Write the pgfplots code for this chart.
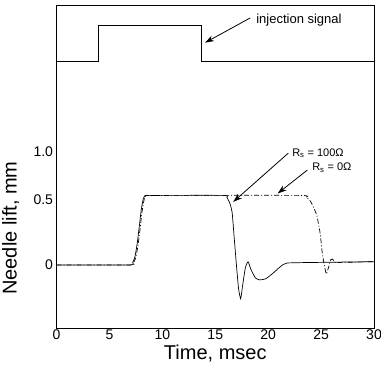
\documentclass[border=0pt]{standalone}
\usepackage{fontspec}
\setmainfont{Liberation Sans}
\usepackage{pgfplots}
\pgfplotsset{compat=1.18}
\usetikzlibrary{arrows.meta}
\begin{document}
\begin{tikzpicture}
\begin{axis}[
  name=ax, scale only axis, width=317.5pt, height=322.5pt,
  xmin=0, xmax=30, ymin=-0.485, ymax=1.996,
  xtick={0,5,...,30},
  ytick={0,0.5,0.87}, yticklabels={0,0.5,1.0},
  major tick length=0pt,
  /pgf/number format/assume math mode=true,
  tick label style={font=\fontsize{14}{16}\selectfont},
  xticklabel style={yshift=2pt},
  axis line style={line width=0.9pt},
  xlabel={Time, msec}, ylabel={Needle lift, mm},
  label style={font=\fontsize{20}{22}\selectfont},
  xlabel style={at={(axis description cs:0.5,-0.0412)}, anchor=north},
  ylabel style={at={(axis description cs:-0.1065,0.31)}, anchor=south},
  clip=false,
]
% injection signal
\addplot[black, line width=0.7pt] coordinates {
  (0,1.569) (4.0,1.569) (4.0,1.842) (13.7,1.842) (13.7,1.569) (30,1.569)};
% R = 100 ohm (solid)
\addplot[black, line width=0.7pt, smooth, tension=0.3] coordinates {
  (0,0) (6.9,0.0) (7.2,0.02) (7.4,0.06) (7.6,0.15) (7.8,0.28) (8.0,0.42) (8.2,0.51) (8.4,0.535)
  (9,0.535) (15.8,0.535) (16.1,0.52) (16.4,0.47) (16.6,0.4) (16.8,0.2) (17.0,0.0) (17.2,-0.18)
  (17.4,-0.26) (17.6,-0.15) (17.85,-0.02) (18.1,0.025) (18.4,-0.04) (18.8,-0.1) (19.2,-0.115)
  (19.8,-0.105) (20.5,-0.06) (21.2,-0.01) (21.8,0.015) (25,0.02) (30,0.025)};
% R = 0 ohm (dash-dot)
\addplot[black, line width=0.7pt, dash pattern=on 5pt off 2pt on 1pt off 2pt, smooth, tension=0.3] coordinates {
  (0,0) (7.0,0) (7.3,0.02) (7.5,0.06) (7.7,0.15) (7.9,0.28) (8.1,0.42) (8.3,0.51) (8.5,0.535)
  (9,0.535) (23.0,0.535) (23.6,0.52) (24.0,0.49) (24.3,0.44) (24.6,0.38) (24.9,0.25) (25.1,0.1)
  (25.3,0.0) (25.5,-0.07) (25.7,-0.02) (25.9,0.04) (26.1,0.045) (26.3,0.02) (27,0.02) (30,0.025)};
% annotations
\draw[line width=0.8pt, -{Stealth[length=9pt,width=6pt]}] (axis cs:18.3,1.90) -- (axis cs:14.04,1.71);
\node[anchor=west, inner sep=0, font=\fontsize{13}{15}\selectfont] at (axis cs:18.86,1.885) {injection signal};
\draw[line width=0.8pt, -{Stealth[length=9pt,width=6pt]}] (axis cs:21.9,0.86) -- (axis cs:16.7,0.485);
\node[anchor=west, inner sep=0, font=\fontsize{11}{13}\selectfont] at (axis cs:22.26,0.86) {R\textsubscript{s} = 100Ω};
\draw[line width=0.8pt, -{Stealth[length=9pt,width=6pt]}] (axis cs:23.7,0.73) -- (axis cs:20.9,0.55);
\node[anchor=west, inner sep=0, font=\fontsize{11}{13}\selectfont] at (axis cs:24.15,0.746) {R\textsubscript{s} = 0Ω};
\end{axis}
\pgfresetboundingbox
\path ([shift={(-56.5pt,-49pt)}]ax.south west) rectangle ([shift={(7pt,5.5pt)}]ax.north east);
\end{tikzpicture}
\end{document}
